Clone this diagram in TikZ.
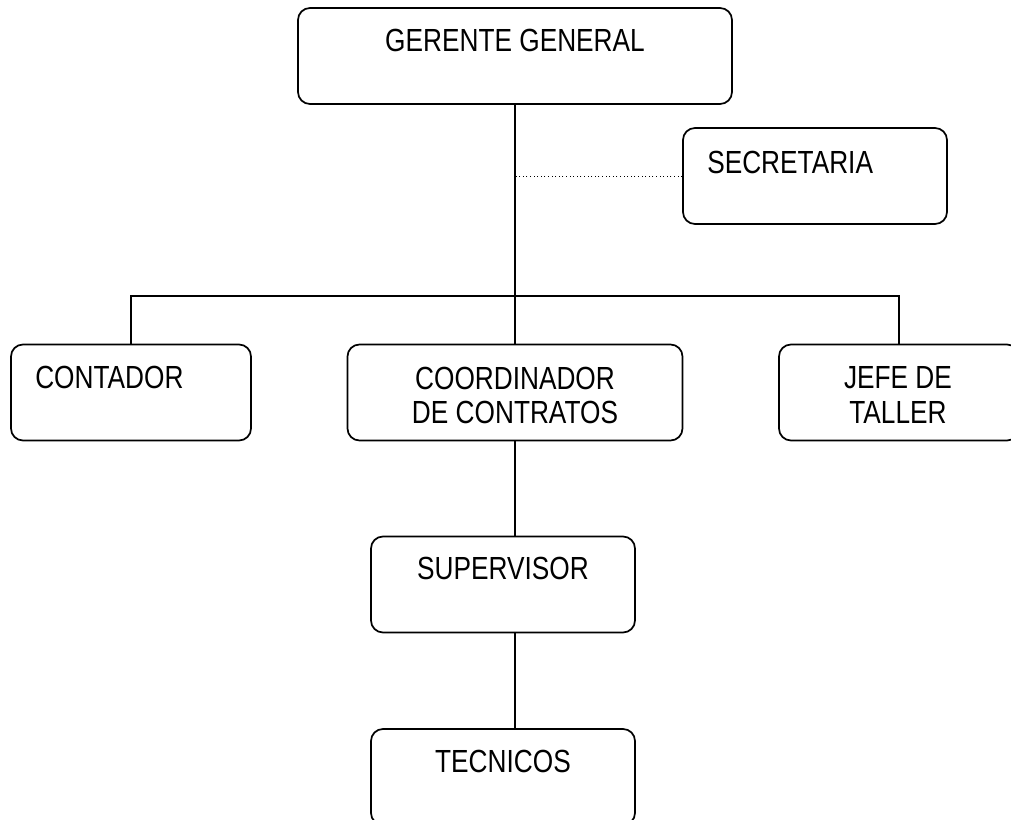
\documentclass[tikz,border=0pt]{standalone}
\usepackage{fontspec}
\setmainfont[FakeStretch=0.82]{Liberation Sans}
\usetikzlibrary{positioning,calc}

\tikzset{
  caja/.style={draw, line width=1.3pt, rounded corners=9pt, minimum height=72pt, inner sep=0pt},
  texto/.style={inner sep=0pt, font=\fontsize{24}{26}\selectfont, align=center},
  linea/.style={line width=1.3pt},
}

\begin{document}
\begin{tikzpicture}[x=0.75pt,y=-0.75pt]
  \useasboundingbox (0,0) rectangle (1011,820);

  % cajas
  \node[caja, minimum width=325.5pt] (gerente) at (515,56) {};
  \node[caja, minimum width=198pt] (secretaria) at (815,176) {};
  \node[caja, minimum width=180pt] (contador) at (131,392.5) {};
  \node[caja, minimum width=251.25pt] (coordinador) at (515,392.5) {};
  \node[caja, minimum width=180pt] (jefe) at (899,392.5) {};
  \node[caja, minimum width=198pt] (supervisor) at (503,584.5) {};
  \node[caja, minimum width=198pt] (tecnicos) at (503,777) {};

  % textos
  \node[texto] (gerenteT) at (515,40) {GERENTE GENERAL};
  \node[texto, anchor=west] (secretariaT) at (707,162) {SECRETARIA};
  \node[texto, anchor=west] (contadorT) at (35,377) {CONTADOR};
  \node[texto] (coordinadorT) at (515,395.5) {COORDINADOR\\DE CONTRATOS};
  \node[texto] (jefeT) at (898,395) {JEFE DE\\TALLER};
  \node[texto] (supervisorT) at (503,568) {SUPERVISOR};
  \node[texto] (tecnicosT) at (503,761) {TECNICOS};

  % conectores
  \coordinate (ramal) at (515,296);
  \draw[linea] (gerente.south) -- (coordinador.north);
  \draw[linea] (contador.north) |- (ramal) -| (jefe.north);
  \draw[dotted, line width=0.7pt] (secretaria.west) -- (secretaria.west -| gerente.south);
  \draw[linea] (coordinador.south) -- (coordinador.south |- supervisor.north);
  \draw[linea] (coordinador.south |- supervisor.south) -- (coordinador.south |- tecnicos.north);
\end{tikzpicture}
\end{document}
